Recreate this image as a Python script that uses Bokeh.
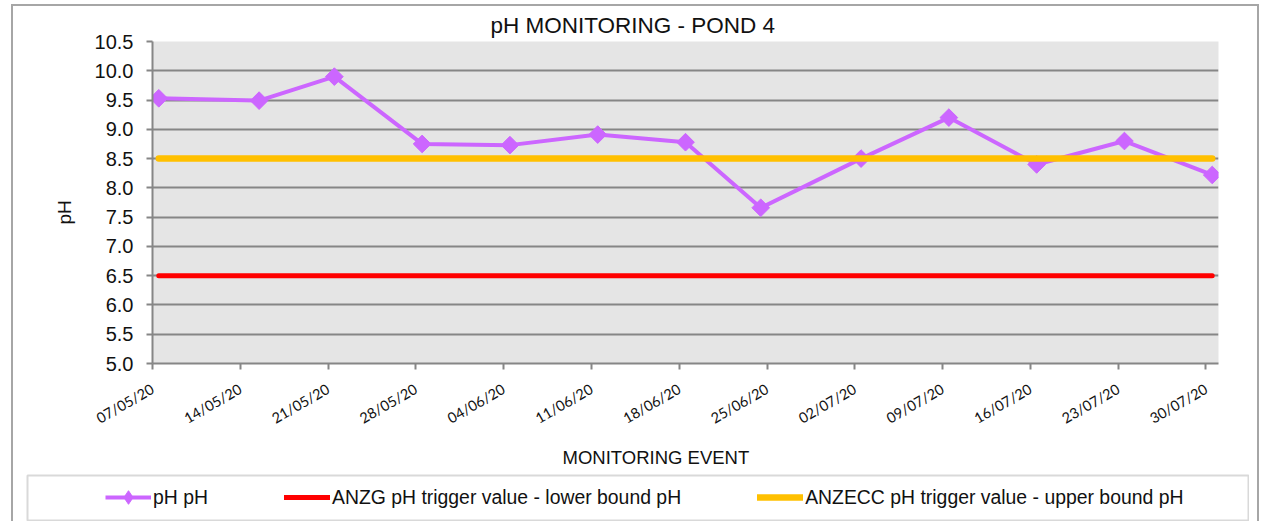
import datetime as dt
import math
from bokeh.plotting import figure
from bokeh.layouts import column
from bokeh.models import (Range1d, FixedTicker, DatetimeTickFormatter, NumeralTickFormatter,
                          Legend, LegendItem, Title, LinearAxis)
from bokeh.embed import file_html
from bokeh.resources import INLINE

# ---- data ----
dates = ["07/05/20", "15/05/20", "21/05/20", "28/05/20", "04/06/20", "11/06/20", "18/06/20",
         "24/06/20", "02/07/20", "09/07/20", "16/07/20", "23/07/20", "30/07/20"]
ph = [9.53, 9.49, 9.90, 8.75, 8.73, 8.91, 8.78, 7.66, 8.50, 9.20, 8.40, 8.80, 8.22]
lower_bound = [6.5, 6.5, 6.5, 6.5, 6.5, 6.5, 6.5, 6.5, 6.5, 6.5, 6.5, 6.5, 6.5]
upper_bound = [8.5, 8.5, 8.5, 8.5, 8.5, 8.5, 8.5, 8.5, 8.5, 8.5, 8.5, 8.5, 8.5]
tick_labels = ["07/05/20", "14/05/20", "21/05/20", "28/05/20", "04/06/20", "11/06/20", "18/06/20",
               "25/06/20", "02/07/20", "09/07/20", "16/07/20", "23/07/20", "30/07/20"]
y_ticks = [5.0, 5.5, 6.0, 6.5, 7.0, 7.5, 8.0, 8.5, 9.0, 9.5, 10.0, 10.5]
x_start, x_end = "07/05/20", "31/07/20"
series_names = ["pH pH", "ANZG pH trigger value - lower bound pH",
                "ANZECC pH trigger value - upper bound pH"]

FMT = "%d/%m/%y"
EPOCH = dt.datetime(1970, 1, 1)


def parse(s):
    return dt.datetime.strptime(s, FMT)


def to_ms(d):
    return (d - EPOCH).total_seconds() * 1000.0


# Excel date axis centres each point within its day
x = [parse(s) + dt.timedelta(hours=12) for s in dates]
tick_ms = [to_ms(parse(s)) for s in tick_labels]

PURPLE = "#CC66FF"
RED = "#FF0000"
GOLD = "#FFC000"
GRID = "#868686"
TEXT = "#111111"
FONT = "Liberation Sans"
BORDER = "2px solid #A6A6A6"


def add_series(fig, marker="square", angle=math.pi / 4):
    a = fig.line(x, ph, line_color=PURPLE, line_width=4)
    b = fig.scatter(x, ph, marker=marker, angle=angle, size=12.5,
                    fill_color=PURPLE, line_color=PURPLE)
    c = fig.line(x, lower_bound, line_color=RED, line_width=5, line_cap="round")
    d = fig.line(x, upper_bound, line_color=GOLD, line_width=6.5, line_cap="round")
    return a, b, c, d


# ---- main chart ----
p = figure(width=1244, height=468, x_axis_type="datetime", output_backend="svg",
           toolbar_location=None,
           x_range=Range1d(parse(x_start), parse(x_end)), y_range=Range1d(5.0, 10.5),
           min_border_left=139, min_border_right=39, min_border_top=35, min_border_bottom=110,
           background_fill_color="#E5E5E5", border_fill_color="white", outline_line_color=None)
add_series(p)

p.title.text = "pH MONITORING - POND 4"
p.title.align = "left"
p.title.offset = 338
p.title.text_font = FONT
p.title.text_font_size = "22.5px"
p.title.text_font_style = "normal"
p.title.text_color = TEXT
p.title.standoff = 8

p.xgrid.grid_line_color = None
p.ygrid.ticker = FixedTicker(ticks=y_ticks)
p.ygrid.grid_line_color = GRID
p.ygrid.grid_line_width = 2

p.yaxis.ticker = FixedTicker(ticks=y_ticks)
p.yaxis.formatter = NumeralTickFormatter(format="0.0")
p.yaxis.major_label_text_font = FONT
p.yaxis.major_label_text_font_size = "20px"
p.yaxis.major_label_text_color = TEXT
p.yaxis.major_label_standoff = 13

p.xaxis.ticker = FixedTicker(ticks=tick_ms)
p.xaxis.formatter = DatetimeTickFormatter(
    milliseconds=FMT, seconds=FMT, minsec=FMT, minutes=FMT, hourmin=FMT, hours=FMT,
    days=FMT, months=FMT, years=FMT)
p.xaxis.major_label_orientation = math.pi / 6
p.xaxis.major_label_text_font = "Lato"
p.xaxis.major_label_text_font_size = "14.5px"
p.xaxis.major_label_text_color = TEXT
p.xaxis.major_label_standoff = 18

for ax in (p.xaxis, p.yaxis):
    ax.axis_line_color = GRID
    ax.axis_line_width = 2
    ax.major_tick_line_color = GRID
    ax.major_tick_line_width = 2
    ax.major_tick_in = 0
    ax.major_tick_out = 6
    ax.minor_tick_line_color = None

# axis titles, placed slightly off-centre as in the reference
xt = Title(text="MONITORING EVENT", align="left", offset=410, text_font=FONT,
           text_font_size="18.5px", text_font_style="normal", text_color=TEXT, standoff=14)
p.add_layout(xt, "below")

# an empty, invisible axis used only as a spacer between the tick labels and the "pH" title
spacer = LinearAxis(ticker=FixedTicker(ticks=[], minor_ticks=[]), major_tick_out=20,
                    major_tick_in=0, minor_tick_out=0, minor_tick_in=0,
                    axis_line_color=None, major_tick_line_color=None,
                    minor_tick_line_color=None)
p.add_layout(spacer, "left")
yt = Title(text="pH", align="left", offset=139, text_font=FONT,
           text_font_size="19px", text_font_style="normal", text_color=TEXT, standoff=34)
p.add_layout(yt, "left")

root1 = column(p, spacing=0, margin=(4, 0, 0, 11),
               styles={"border-top": BORDER, "border-left": BORDER, "border-right": BORDER,
                       "background": "white"})

# ---- legend strip (series drawn outside its view range; only the legend shows) ----
pl = figure(width=1223, height=47, output_backend="svg", toolbar_location=None,
            x_range=Range1d(0, 1), y_range=Range1d(0, 1),
            x_axis_location=None, y_axis_location=None,
            min_border_left=1, min_border_right=1, min_border_top=1, min_border_bottom=1,
            background_fill_color="white", border_fill_color="white",
            outline_line_color="#D9D9D9", outline_line_width=2)
pl.xgrid.visible = False
pl.ygrid.visible = False
pl.margin = (0, 8, 0, 13)
l_ph_line, l_ph_pts, l_low, l_up = add_series(pl, marker="diamond", angle=0.0)

legend = Legend(items=[
    LegendItem(label=series_names[0], renderers=[l_ph_line, l_ph_pts]),
    LegendItem(label=series_names[1], renderers=[l_low]),
    LegendItem(label=series_names[2], renderers=[l_up]),
], location=(78, 6), orientation="horizontal", spacing=76, glyph_width=46, glyph_height=34,
    label_standoff=2, padding=0, margin=0, border_line_alpha=0, background_fill_alpha=0,
    label_text_font=FONT, label_text_font_size="19.4px", label_text_color=TEXT)
pl.add_layout(legend)

root2 = column(pl, spacing=0, margin=(0, 0, 0, 11),
               styles={"border-left": BORDER, "border-right": BORDER, "background": "white"})

open("out.html", "w").write(file_html([root1, root2], INLINE))
